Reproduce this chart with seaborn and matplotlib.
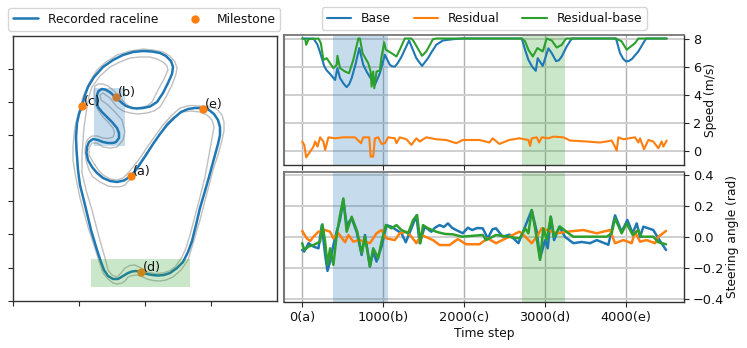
import numpy as np
import seaborn as sns
import matplotlib.pyplot as plt
from matplotlib.patches import Rectangle

# track, digitised (axis units run with the picture)
race_x = [131, 135, 140, 146, 153, 160, 167, 174, 181, 188, 195, 203, 209, 214, 218, 220, 220, 218, 215, 212, 209, 205, 200, 196, 192, 188, 183, 177, 170, 164, 158, 152, 147, 141, 136, 132, 128, 123, 118, 113, 108, 104, 101, 97, 91, 85, 80, 78, 76.5, 76, 77, 79, 82, 85, 88, 94, 103, 113, 123, 133, 143, 152, 160, 166, 171, 173, 172, 168, 163, 157, 150, 143, 137, 132, 126, 122, 118, 115, 111, 108, 105, 102, 98.5, 97, 96.5, 98, 102, 107, 112, 117, 119, 119, 116, 113, 108, 103, 98, 93, 89, 87, 86.5, 88, 92, 97, 103, 110, 117, 124, 131]
race_y = [176, 171, 164, 155, 144, 134, 125, 118, 112, 109, 108, 108, 110, 114, 120, 127, 135, 144, 155, 166, 177, 191, 208, 225, 241, 252, 262, 268, 273, 275, 275.5, 275, 274, 272, 271, 271.5, 273, 276, 279, 279, 276, 270, 262, 250, 230, 205, 185, 170, 150, 137, 123, 114, 106, 95, 87, 77, 67, 60, 55, 52, 51, 51.5, 53, 56, 61, 67, 74, 83, 93, 102, 106.5, 108, 108.5, 108, 106, 103, 99.5, 97, 93, 91, 89.5, 89, 91, 95, 101, 107, 112, 117, 122, 128, 133, 138, 142, 143, 143, 142, 140, 139, 142, 147, 153, 160, 167, 173, 178, 181, 182, 180.5, 176]
outer_x = [95, 99, 103, 110, 117, 123, 128, 134, 140, 148, 155, 163, 171, 180, 190, 200, 209, 217, 222, 224, 224, 222, 218, 213, 207, 200, 192, 188, 181, 173, 166, 160, 153, 147, 142, 137, 132, 128, 125, 122, 117, 113, 108, 103, 98, 88, 80, 75, 73, 73, 74, 75, 79, 83, 89, 97, 106, 117, 130, 143, 153, 163, 170, 175, 177, 176, 172, 166, 160, 154, 147, 138, 130, 123, 117, 110, 103, 100, 101, 108, 115, 122, 125, 123, 117, 110, 103, 97, 92, 89, 89, 93, 95]
outer_y = [165, 171, 175, 179, 180, 178, 173, 166, 158, 146, 136, 125, 116, 108, 105.5, 106, 106.5, 109, 115, 122, 131, 140, 155, 170, 193, 220, 247, 260, 270, 277, 280, 281, 280.5, 279, 276.5, 275, 275.5, 277, 281, 283, 284, 283, 279, 273, 258, 227, 198, 173, 160, 147, 135, 127, 111, 97, 83, 70, 62, 55, 51, 49, 50, 52, 56, 62, 68, 74, 85, 97, 107, 111, 113, 114, 113, 111, 107, 98, 93, 95, 100, 105, 112, 120, 132, 140, 147, 148, 147, 143, 143, 148, 155, 162, 165]
inner_x = [137, 146, 156, 167, 174, 182, 191, 200, 207, 212, 214, 213, 209, 205, 198, 190, 186, 182, 175, 169, 163, 155, 147, 141, 135, 130, 125, 121, 117, 112, 108, 105, 99, 92, 86, 82, 82, 84, 87, 89, 92, 100, 110, 120, 130, 140, 150, 157, 163, 167, 168, 164, 158, 152, 147, 142, 136, 130, 125, 122, 117, 113, 108, 103, 98, 95, 94, 94, 95, 98, 103, 108, 113, 114.5, 113, 108, 103, 97, 92, 88, 86, 85, 86, 89, 93, 100, 108, 115, 121, 125, 131, 137]
inner_y = [167, 154, 140, 123, 117, 112, 111, 112, 115, 120, 127, 133, 155, 177, 205, 235, 248, 257, 267, 271, 273, 273.5, 272, 268, 265, 265.5, 268, 273, 277, 275, 270, 258, 237, 210, 190, 173, 155, 127, 107, 96, 87, 76, 67, 62, 58, 57, 57, 59, 62, 66, 70, 79, 90, 102, 106, 107, 108, 107, 103, 100, 94, 90, 86, 84, 84, 86, 92, 98, 104, 110, 117, 122, 128, 133, 137, 138.5, 138, 136, 136, 139, 143, 151, 160, 170, 177, 182, 186, 187, 186.5, 185, 178, 167]
milestone_x = [131, 116, 82, 141, 203]
milestone_y = [176, 97, 106, 272, 109]
milestone_labels = ['(a)', '(b)', '(c)', '(d)', '(e)']

# speed (m/s)
base_speed_t = [0, 139, 189, 230, 271, 300, 344, 406, 435, 467, 510, 549, 580, 611, 660, 705, 754, 800, 845, 898, 959, 1021, 1082, 1110, 1144, 1180, 1226, 1320, 1370, 1410, 1480, 1554, 1600, 1656, 1738, 1861, 1984,
                2712, 2753, 2794, 2840, 2885, 2909, 2971, 3041, 3082, 3136, 3170, 3206, 3267, 3329, 3876, 3926, 3965, 4000, 4035, 4070, 4152, 4247, 4502]
base_speed = [8, 8, 7.56, 6.84, 6.05, 5.75, 5.48, 5.05, 5.89, 5.18, 4.8, 4.54, 4.75, 5.18, 6.2, 7.32, 6.13, 5.6, 5.18, 4.7, 5.53, 6.84, 6.13, 6.02, 6.0, 6.25, 6.7, 7.86, 7.15, 6.6, 6.05, 6.6, 7.05, 7.55, 7.86, 7.95, 8,
              8, 7.2, 6.48, 6.0, 5.7, 6.6, 6.05, 7.3, 6.96, 6.39, 6.45, 6.72, 7.43, 8, 8, 6.96, 6.55, 6.37, 6.4, 6.53, 7.08, 8, 8]
res_base_speed_t = [0, 37, 49, 78, 201, 230, 262, 303, 344, 385, 426, 435, 467, 529, 578, 631, 693, 713, 746, 816, 845, 857, 877, 890, 918, 959, 980, 1013, 1033, 1103, 1164, 1205,
                    1267, 1349, 1378, 1480, 1533, 1615, 1656, 2712, 2753, 2794, 2848, 2905, 2971, 3020, 3082, 3144, 3206, 3259, 3876, 3946, 4008, 4111, 4152, 4502]
res_base_speed = [8, 7.95, 7.55, 7.95, 8, 7.67, 6.48, 6.6, 6.24, 5.89, 6.13, 6.77, 5.89, 5.65, 5.53, 6.48, 8, 8, 6.95, 6.24, 5.65, 4.58, 5.65, 4.46, 5.65, 5.72, 6.72, 7.72, 7.2, 6.96, 6.72, 7.2,
                  8, 8, 7.79, 6.77, 7.08, 7.95, 8, 8, 7.8, 7.2, 6.72, 7.32, 7.08, 8, 7.86, 7.36, 7.55, 8, 8, 7.8, 7.2, 7.67, 8, 8]
residual_speed_t = [0, 25, 49, 98, 139, 160, 189, 221, 262, 283, 324, 406, 508, 652, 726, 754, 828, 845, 877, 898, 939, 980, 1021, 1062, 1144, 1164, 1205, 1287, 1349, 1410, 1451, 1533,
                    1656, 1779, 1902, 1984, 2189, 2312, 2353, 2435, 2558, 2681, 2794, 2815, 2835, 2897, 2926, 2959, 3041, 3103, 3226, 3309, 3514, 3679, 3823, 3852, 3885, 3905, 3967,
                    4111, 4152, 4173, 4222, 4276, 4337, 4399, 4440, 4461, 4502]
residual_speed = [.67, .43, -.45, -.05, .31, .67, .31, .97, .67, .07, .97, .9, .97, .97, .55, .97, .97, -.4, -.4, .9, .97, .5, .55, .97, .9, .55, .97, .83, .43, .9, .67, .97,
                  .83, .78, .55, .78, .78, .6, .9, .5, .78, .9, .78, .36, .9, .97, .6, .97, .9, 1.02, .97, .74, .67, .6, .74, .43, .02, .97, .83,
                  .97, .6, .9, .12, .78, .67, .19, .67, .31, .74]

# steering angle (rad)
base_steer_t = [0, 25, 78, 139, 201, 242, 283, 312, 344, 385, 426, 467, 508, 549, 611, 672, 734, 775, 816, 836, 877, 918, 980, 1041, 1103, 1164, 1226, 1279, 1349, 1410, 1451, 1513, 1595, 1640, 1697, 1750, 1800, 1850, 1902, 1984, 2046, 2100, 2160, 2230, 2292, 2350, 2394, 2476, 2560, 2671,
                2753, 2835, 2897, 2938, 3000, 3033, 3070, 3111, 3177, 3247, 3350, 3450, 3556, 3638, 3782, 3864, 3946, 4016, 4082, 4132, 4173, 4214, 4337, 4399, 4494]
base_steer = [-.084, -.094, -.04, -.062, -.073, .077, -.116, -.219, -.159, -.052, .034, .11, .238, .077, .12, .034, -.116, .013, -.116, -.191, -.094, -.159, -.062, .077, .066, .045, .024, -.034, .056, .138, -.04, .066, .034, .06, .077, .065, .088, .06, .045, .024, .06, .045, .058, .056, -.009, .05, .056, .002, .015, -.04,
              .067, .174, .034, -.137, -.02, -.073, .131, -.02, .067, 0, -.04, -.032, -.04, -.02, -.05, .14, .034, .11, .024, .088, 0, .067, .045, -.009, -.084]
residual_steer_t = [0, 57, 98, 139, 201, 283, 344, 385, 447, 529, 570, 631, 713, 836, 918, 980, 1041, 1144, 1205, 1287, 1349, 1410, 1472, 1615, 1697, 1820, 1923, 2025, 2189, 2292, 2394, 2558, 2681,
                    2712, 2835, 2897, 2959, 3144, 3267, 3473, 3638, 3802, 3864, 3967, 4070, 4111, 4173, 4255, 4358, 4399, 4494]
residual_steer = [.039, -.009, -.026, .002, .034, .045, .034, -.009, .024, -.034, .013, -.03, -.02, -.04, .024, .045, -.009, -.02, .024, .034, .002, -.04, .013, -.02, -.052, -.052, -.013, -.047, -.047, -.009, -.04, .002, .034,
                  .024, -.04, .002, .056, .024, .034, .045, .024, .045, -.04, -.02, -.04, .034, -.03, -.02, -.04, .002, .039]
res_base_steer_t = [0, 25, 78, 139, 221, 250, 283, 312, 344, 385, 426, 467, 508, 549, 611, 680, 734, 775, 836, 877, 939, 980, 1033, 1103, 1164, 1226, 1308, 1370, 1419, 1460, 1492, 1554, 1656, 1760, 1861, 1976, 2230, 2271, 2394, 2681,
                    2712, 2753, 2794, 2835, 2876, 2938, 2979, 3020, 3070, 3111, 3185, 3288, 3350, 3761, 3823, 3864, 3946, 4008, 4082, 4152, 4193, 4337, 4399, 4494]
res_base_steer = [-.04, -.084, -.062, -.052, -.03, .082, -.03, -.18, -.073, -.18, .013, .142, .249, .034, .131, .034, -.105, .002, -.191, -.073, -.137, -.03, .077, .056, .077, .045, .024, .11, .142, -.04, .077, .056, .034, .02, .017, .002, .013, -.02, .013, -.009,
                  .013, .056, .024, .174, .056, -.148, .056, -.02, .131, .002, .067, .024, .002, .002, .024, .12, .024, .088, .013, .045, .002, .002, -.034, -.047]

time_ticks = [0, 1000, 2000, 3000, 4000]
time_labels = ['0(a)', '1000(b)', '2000(c)', '3000(d)', '4000(e)']
blue_span = (383, 1060)
green_span = (2716, 3247)

sns.set_style('white')
plt.rcParams['font.family'] = ['DejaVu Sans']
plt.rcParams['text.color'] = '#111111'

fig = plt.figure(figsize=(7.47, 3.48), dpi=100)
W, H = 747, 348


def add_axes(x0, y0, x1, y1):
    # pixel box from the top left of the picture
    return fig.add_axes([x0 / W, 1 - y1 / H, (x1 - x0) / W, (y1 - y0) / H])


ax_track = add_axes(13, 36, 277, 301)
ax_speed = add_axes(284, 35, 684, 165)
ax_steer = add_axes(284, 172, 684, 302)

# left: the track
sns.lineplot(x=outer_x, y=outer_y, sort=False, estimator=None, color='grey', alpha=0.5, lw=1, ax=ax_track)
sns.lineplot(x=inner_x, y=inner_y, sort=False, estimator=None, color='grey', alpha=0.5, lw=1, ax=ax_track)
sns.lineplot(x=race_x, y=race_y, sort=False, estimator=None, color='tab:blue', lw=1.8, ax=ax_track,
             label='Recorded raceline')
sns.scatterplot(x=milestone_x, y=milestone_y, color='tab:orange', s=36, linewidth=0, zorder=3, ax=ax_track,
                label='Milestone')
for mx, my, name in zip(milestone_x, milestone_y, milestone_labels):
    ax_track.text(mx + 1.5, my - 1, name, fontsize=9.2, zorder=6)
ax_track.add_patch(Rectangle((94, 88), 31, 58, color='tab:blue', alpha=0.25, lw=0, zorder=5))
ax_track.add_patch(Rectangle((91, 259), 99, 28, color='tab:green', alpha=0.25, lw=0, zorder=5))
ax_track.set_xlim(13, 277)
ax_track.set_ylim(301, 36)
ax_track.set_xticks([13, 79, 145, 211])
ax_track.set_yticks([69, 102, 135, 168, 201, 234, 268, 301])
ax_track.set_xticklabels([])
ax_track.set_yticklabels([])
ax_track.legend(loc='lower center', bbox_to_anchor=(0.498, 1.0), ncol=2, fontsize=8.8, columnspacing=2.0,
                frameon=True, borderaxespad=0.45, handlelength=2)

# right: speed and steering over time
sns.lineplot(x=base_speed_t, y=base_speed, color='tab:blue', lw=1.5, ax=ax_speed, label='Base')
sns.lineplot(x=residual_speed_t, y=residual_speed, color='tab:orange', lw=1.5, ax=ax_speed, label='Residual')
sns.lineplot(x=res_base_speed_t, y=res_base_speed, color='tab:green', lw=1.5, ax=ax_speed, label='Residual-base')
ax_speed.set_ylim(-1.0, 8.25)
ax_speed.set_yticks([0, 2, 4, 6, 8])
ax_speed.set_ylabel('Speed (m/s)', fontsize=8.8)
ax_speed.legend(loc='lower center', bbox_to_anchor=(0.501, 1.0), ncol=3, fontsize=8.8, columnspacing=1.85,
                frameon=True, borderaxespad=0.42, handlelength=2)

sns.lineplot(x=base_steer_t, y=base_steer, color='tab:blue', lw=1.8, ax=ax_steer)
sns.lineplot(x=residual_steer_t, y=residual_steer, color='tab:orange', lw=1.8, ax=ax_steer)
sns.lineplot(x=res_base_steer_t, y=res_base_steer, color='tab:green', lw=1.8, ax=ax_steer)
ax_steer.set_ylim(-0.42, 0.42)
ax_steer.set_yticks([-0.4, -0.2, 0.0, 0.2, 0.4])
ax_steer.set_ylabel('Steering angle (rad)', fontsize=8.8)
ax_steer.set_xlabel('Time step', fontsize=8.8, labelpad=2)

for ax in (ax_speed, ax_steer):
    ax.set_xlim(-225, 4716)
    ax.set_xticks(time_ticks)
    ax.yaxis.tick_right()
    ax.yaxis.set_label_position('right')
    ax.grid(True, axis='x', color='#b0b0b0', lw=1)
    ax.grid(True, axis='y', color='#cfcfcf', lw=1.4)
    ax.axvspan(*blue_span, color='tab:blue', alpha=0.25, lw=0)
    ax.axvspan(*green_span, color='tab:green', alpha=0.25, lw=0)
ax_speed.yaxis.set_label_coords(1.05, 0.5)
ax_steer.yaxis.set_label_coords(1.105, 0.5)
ax_speed.set_xticklabels([])
ax_steer.set_xticklabels(time_labels)

for ax in (ax_track, ax_speed, ax_steer):
    ax.tick_params(bottom=True, left=(ax is ax_track), right=(ax is not ax_track), length=3.5, width=0.8, color='#262626',
                   labelsize=9.3, labelcolor='#111111', pad=3)
    for side in ax.spines.values():
        side.set_color('#333333')
        side.set_linewidth(1)
for ax in (ax_speed, ax_steer):
    ax.spines['left'].set_color('#777777')
    ax.spines['left'].set_linewidth(1.5)
    ax.spines['top'].set_color('#777777')
    ax.spines['top'].set_linewidth(1.3)
ax_steer.xaxis.label.set_color('#111111')
ax_steer.yaxis.label.set_color('#111111')
ax_speed.yaxis.label.set_color('#111111')

fig.savefig('out.png', dpi=100)
